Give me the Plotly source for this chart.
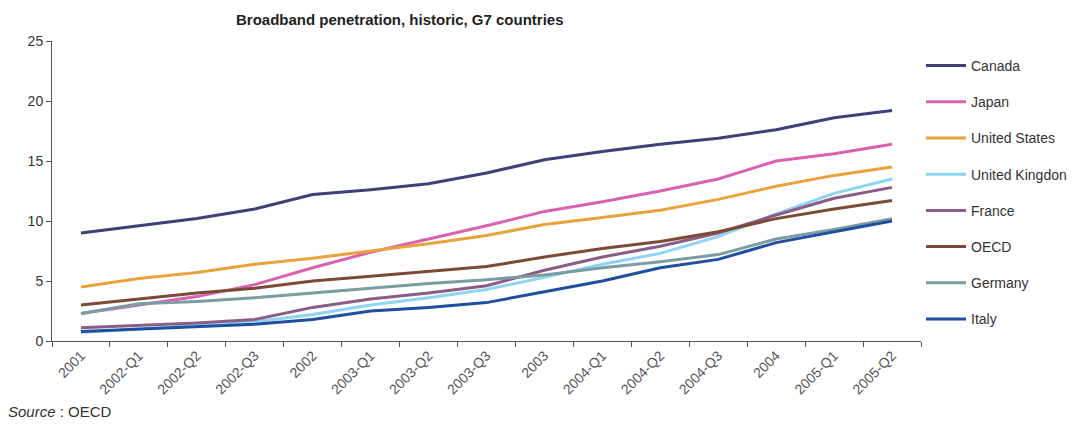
import plotly.graph_objects as go

categories = ["2001", "2002-Q1", "2002-Q2", "2002-Q3", "2002", "2003-Q1", "2003-Q2",
              "2003-Q3", "2003", "2004-Q1", "2004-Q2", "2004-Q3", "2004", "2005-Q1", "2005-Q2"]

canada = [9.0, 9.6, 10.2, 11.0, 12.2, 12.6, 13.1, 14.0, 15.1, 15.8, 16.4, 16.9, 17.6, 18.6, 19.2]
japan = [2.3, 3.0, 3.7, 4.7, 6.1, 7.4, 8.5, 9.6, 10.8, 11.6, 12.5, 13.5, 15.0, 15.6, 16.4]
united_states = [4.5, 5.2, 5.7, 6.4, 6.9, 7.5, 8.1, 8.8, 9.7, 10.3, 10.9, 11.8, 12.9, 13.8, 14.5]
united_kingdom = [0.7, 1.0, 1.3, 1.6, 2.2, 3.0, 3.6, 4.3, 5.3, 6.4, 7.3, 8.7, 10.6, 12.3, 13.5]
france = [1.1, 1.3, 1.5, 1.8, 2.8, 3.5, 4.0, 4.6, 5.9, 7.0, 7.9, 9.0, 10.5, 11.9, 12.8]
oecd = [3.0, 3.5, 4.0, 4.4, 5.0, 5.4, 5.8, 6.2, 7.0, 7.7, 8.3, 9.1, 10.2, 11.0, 11.7]
germany = [2.3, 3.1, 3.3, 3.6, 4.0, 4.4, 4.8, 5.1, 5.5, 6.1, 6.6, 7.2, 8.5, 9.3, 10.2]
italy = [0.8, 1.0, 1.2, 1.4, 1.8, 2.5, 2.8, 3.2, 4.1, 5.0, 6.1, 6.8, 8.2, 9.1, 10.0]

series = [
    ("Canada", canada, "#3c4277"),
    ("Japan", japan, "#d862b0"),
    ("United States", united_states, "#e8a33c"),
    ("United Kingdon", united_kingdom, "#8fd4f2"),
    ("France", france, "#8b5d86"),
    ("OECD", oecd, "#7b4a36"),
    ("Germany", germany, "#7c9ca4"),
    ("Italy", italy, "#1f4f9e"),
]

FONT = "Liberation Sans, Arial, sans-serif"

fig = go.Figure()
for i, (name, vals, color) in enumerate(series):
    fig.add_trace(go.Scatter(
        x=categories, y=vals, mode="lines", name=name,
        line=dict(color=color, width=3),
        legendgroup=name, legendrank=i + 1,
    ))

fig.update_layout(
    width=1077, height=424,
    margin=dict(l=52, r=156, t=41, b=83, autoexpand=False),
    paper_bgcolor="white", plot_bgcolor="white",
    font=dict(family=FONT, size=12, color="#333333"),
    showlegend=True,
    legend=dict(
        x=1.0, xanchor="left", y=0.97, yanchor="top",
        font=dict(family=FONT, size=14, color="#333333"),
        tracegroupgap=15, itemwidth=40, maxheight=400,
        bgcolor="rgba(0,0,0,0)",
    ),
    xaxis=dict(
        type="category", tickangle=-45, tickson="boundaries",
        ticks="outside", ticklen=5, tickcolor="#555555",
        showline=True, linecolor="#555555", linewidth=1,
        showgrid=False, zeroline=False,
        tickfont=dict(family=FONT, size=14, color="#555555"),
        range=[-0.5, 14.5],
    ),
    yaxis=dict(
        range=[0, 25], tickvals=[0, 5, 10, 15, 20, 25],
        ticks="outside", ticklen=5, tickcolor="#555555",
        showline=True, linecolor="#555555", linewidth=1,
        showgrid=False, zeroline=False,
        tickfont=dict(family=FONT, size=14, color="#333333"),
    ),
    annotations=[
        dict(text="<b>Broadband penetration, historic, G7 countries</b>",
             xref="paper", yref="paper", x=0.40, y=1.0, yshift=22,
             xanchor="center", yanchor="middle", showarrow=False,
             font=dict(family=FONT, size=15, color="#222222")),
        dict(text="<i>Source</i> : OECD",
             xref="paper", yref="paper", x=0, xshift=-46, y=0, yshift=-70,
             xanchor="left", yanchor="middle", showarrow=False,
             font=dict(family=FONT, size=15, color="#333333")),
    ],
)

fig.write_html("out.html")
